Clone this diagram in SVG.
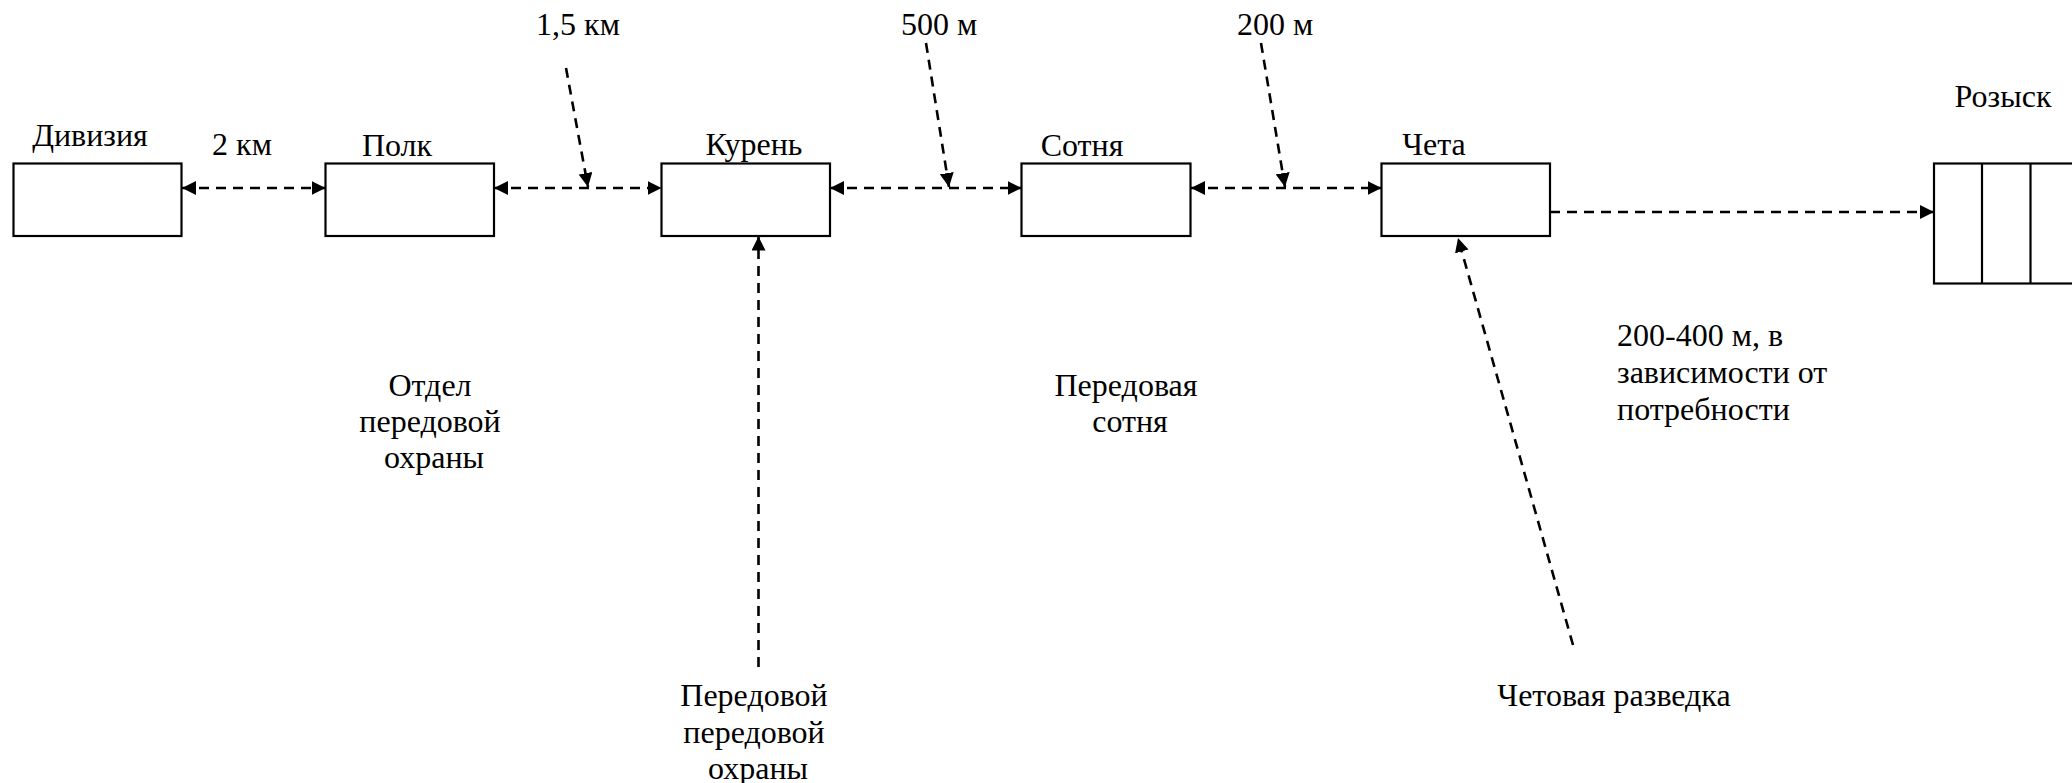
<svg xmlns="http://www.w3.org/2000/svg" width="2072" height="783" viewBox="0 0 2072 783">
<style>
  .box { fill: #fff; stroke: #000; stroke-width: 2.2; }
  text { font-family: 'Liberation Serif', 'Times New Roman', serif; font-size: 32px; fill: #000; }
  .c { stroke: #000; stroke-width: 2.6; stroke-dasharray: 10 7; fill: none; }
</style>
<defs>
  <marker id="ah" viewBox="0 0 14 14" refX="14" refY="7" markerWidth="14" markerHeight="14" markerUnits="userSpaceOnUse" orient="auto-start-reverse">
    <path d="M0,0 L14,7 L0,14 Z" fill="#000"/>
  </marker>
</defs>
<rect width="2072" height="783" fill="#fff"/>

<g id="connectors">
  <line class="c" x1="182" y1="188" x2="325.5" y2="188" marker-start="url(#ah)" marker-end="url(#ah)"/>
  <line class="c" x1="494" y1="188" x2="661.5" y2="188" marker-start="url(#ah)" marker-end="url(#ah)"/>
  <line class="c" x1="830" y1="188" x2="1021.5" y2="188" marker-start="url(#ah)" marker-end="url(#ah)"/>
  <line class="c" x1="1191" y1="188" x2="1381.5" y2="188" marker-start="url(#ah)" marker-end="url(#ah)"/>
  <line class="c" x1="1550" y1="212" x2="1934" y2="212" marker-end="url(#ah)"/>
  <line class="c" x1="566" y1="68" x2="588" y2="187" marker-end="url(#ah)"/>
  <line class="c" x1="926" y1="43" x2="949" y2="187" marker-end="url(#ah)"/>
  <line class="c" x1="1261" y1="43" x2="1285" y2="187" marker-end="url(#ah)"/>
  <line class="c" x1="758.5" y1="667" x2="758.5" y2="236.5" marker-end="url(#ah)"/>
  <line class="c" x1="1573" y1="645" x2="1458" y2="238" marker-end="url(#ah)"/>
</g>

<g id="node-diviziya">
  <rect class="box" x="13.5" y="163.5" width="168" height="72.5"/>
  <text x="90" y="146" text-anchor="middle">Дивизия</text>
</g>
<g id="node-polk">
  <rect class="box" x="325.5" y="163.5" width="168.5" height="72.5"/>
  <text x="397" y="156" text-anchor="middle">Полк</text>
</g>
<g id="node-kuren">
  <rect class="box" x="661.5" y="163.5" width="168.5" height="72.5"/>
  <text x="754" y="155" text-anchor="middle">Курень</text>
</g>
<g id="node-sotnya">
  <rect class="box" x="1021.5" y="163.5" width="169" height="72.5"/>
  <text x="1082" y="156" text-anchor="middle">Сотня</text>
</g>
<g id="node-cheta">
  <rect class="box" x="1381.5" y="163.5" width="168.5" height="72.5"/>
  <text x="1434" y="155" text-anchor="middle">Чета</text>
</g>
<g id="node-rozysk">
  <rect class="box" x="1934" y="163.5" width="200" height="120"/>
  <line x1="1982" y1="163.5" x2="1982" y2="283.5" stroke="#000" stroke-width="2.2"/>
  <line x1="2030.5" y1="163.5" x2="2030.5" y2="283.5" stroke="#000" stroke-width="2.2"/>
  <text x="2003" y="107" text-anchor="middle">Розыск</text>
</g>

<g id="labels">
  <text x="242" y="155" text-anchor="middle">2 км</text>
  <text x="578" y="35" text-anchor="middle">1,5 км</text>
  <text x="939" y="35" text-anchor="middle">500 м</text>
  <text x="1275" y="35" text-anchor="middle">200 м</text>
</g>

<g id="note-otdel">
  <text text-anchor="middle">
    <tspan x="434" y="396">Отдел</tspan>
    <tspan x="434" y="432">передовой</tspan>
    <tspan x="434" y="468">охраны</tspan>
  </text>
</g>
<g id="note-peredovaya-sotnya">
  <text text-anchor="middle">
    <tspan x="1130" y="396">Передовая</tspan>
    <tspan x="1130" y="432">сотня</tspan>
  </text>
</g>
<g id="note-distance">
  <text>
    <tspan x="1617" y="346">200-400 м, в</tspan>
    <tspan x="1617" y="383">зависимости от</tspan>
    <tspan x="1617" y="420">потребности</tspan>
  </text>
</g>
<g id="note-peredovoi">
  <text text-anchor="middle">
    <tspan x="758" y="706">Передовой</tspan>
    <tspan x="758" y="743">передовой</tspan>
    <tspan x="758" y="779">охраны</tspan>
  </text>
</g>
<g id="note-chetovaya">
  <text x="1614" y="706" text-anchor="middle">Четовая разведка</text>
</g>
</svg>
